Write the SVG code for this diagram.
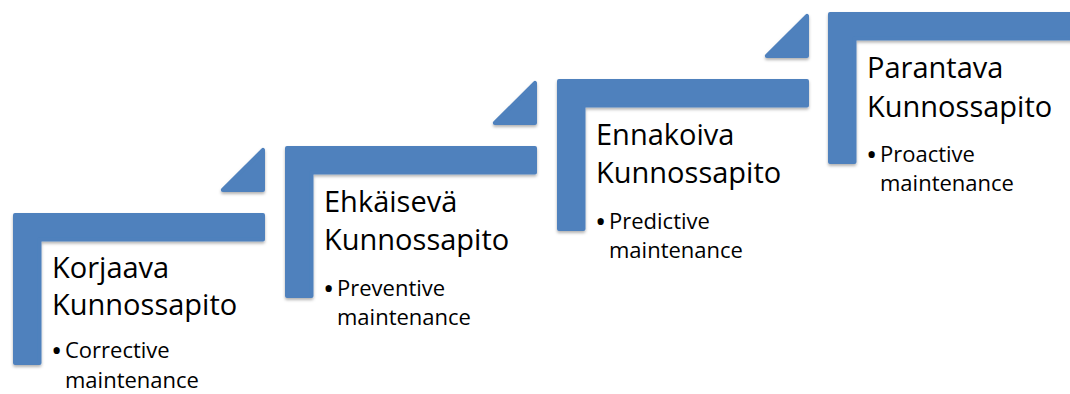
<svg xmlns="http://www.w3.org/2000/svg" xmlns:xlink="http://www.w3.org/1999/xlink" width="1070" height="394" viewBox="0 0 1070 394">
  <style>
    .shape { fill: #4F81BD; stroke: #4F81BD; stroke-width: 4; stroke-linejoin: round; filter: url(#shadow); }
    .title { font-family: "Open Sans", "Liberation Sans", sans-serif; font-size: 29px; fill: #000; }
    .sub { font-family: "Open Sans", "Liberation Sans", sans-serif; font-size: 22px; fill: #000; }
    .dot { font-family: "Open Sans", "Liberation Sans", sans-serif; font-size: 30px; fill: #000; }
  </style>
  <defs>
    <filter id="shadow" x="-10%" y="-10%" width="120%" height="130%">
      <feDropShadow dx="0" dy="2" stdDeviation="1.8" flood-color="#000" flood-opacity="0.3"/>
    </filter>
    <!-- corner bracket of a step, 252 x 152 with 28.5 bar -->
    <path id="corner" d="M2,2 H250 V26.5 H26.5 V150 H2 Z"/>
    <!-- small rising arrow triangle above each step -->
    <path id="tri" d="M250,-63.2 V-23 H209.8 Z"/>
  </defs>

  <rect width="1070" height="394" fill="#fff"/>

  <g id="step1" transform="translate(13,213)">
    <use href="#corner" xlink:href="#corner" class="shape"/>
    <use href="#tri" xlink:href="#tri" class="shape"/>
    <text class="title" x="39" y="65">Korjaava</text>
    <text class="title" x="39" y="102">Kunnossapito</text>
    <text class="dot" x="38" y="148">•</text>
    <text class="sub" x="52" y="144.8">Corrective</text>
    <text class="sub" x="52" y="174.5">maintenance</text>
  </g>

  <g id="step2" transform="translate(285,146)">
    <use href="#corner" xlink:href="#corner" class="shape"/>
    <use href="#tri" xlink:href="#tri" class="shape"/>
    <text class="title" x="39" y="66">Ehkäisevä</text>
    <text class="title" x="39" y="103.5">Kunnossapito</text>
    <text class="dot" x="38" y="152.5">•</text>
    <text class="sub" x="52" y="149.5">Preventive</text>
    <text class="sub" x="52" y="179">maintenance</text>
  </g>

  <g id="step3" transform="translate(557,79)">
    <use href="#corner" xlink:href="#corner" class="shape"/>
    <use href="#tri" xlink:href="#tri" class="shape"/>
    <text class="title" x="39" y="66">Ennakoiva</text>
    <text class="title" x="39" y="104">Kunnossapito</text>
    <text class="dot" x="38" y="152.5">•</text>
    <text class="sub" x="52" y="149.5">Predictive</text>
    <text class="sub" x="52" y="179">maintenance</text>
  </g>

  <g id="step4" transform="translate(828,12)">
    <use href="#corner" xlink:href="#corner" class="shape"/>
    <text class="title" x="39" y="66">Parantava</text>
    <text class="title" x="39" y="104.5">Kunnossapito</text>
    <text class="dot" x="38" y="152.5">•</text>
    <text class="sub" x="52" y="149.5">Proactive</text>
    <text class="sub" x="52" y="179">maintenance</text>
  </g>

  <g id="connectors"></g>
</svg>
